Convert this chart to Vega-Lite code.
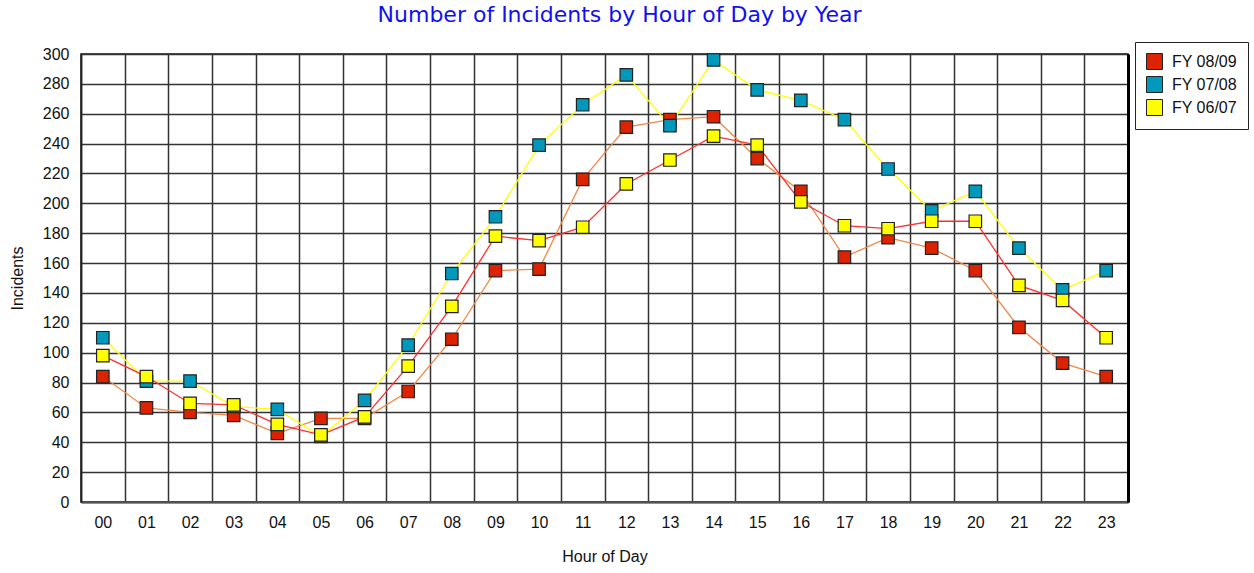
{
  "$schema": "https://vega.github.io/schema/vega-lite/v6.json",
  "autosize": {"type": "none"},
  "width": 1047,
  "height": 448,
  "padding": {"left": 81, "top": 54, "right": 126, "bottom": 71},
  "background": "white",
  "title": {
    "text": "Number of Incidents by Hour of Day by Year",
    "color": "#1010ee",
    "font": "DejaVu Sans",
    "fontSize": 22,
    "fontWeight": "normal",
    "anchor": "middle",
    "dx": 15,
    "offset": 15
  },
  "config": {
    "view": {"stroke": "#111", "strokeWidth": 1.5},
    "font": "Liberation Sans",
    "axis": {
      "labelFont": "Liberation Sans",
      "labelFontSize": 16,
      "labelColor": "#111",
      "titleFont": "Liberation Sans",
      "titleFontSize": 16,
      "titleFontWeight": "normal",
      "titleColor": "#111",
      "gridColor": "#333",
      "gridWidth": 1.5,
      "gridOpacity": 1,
      "ticks": false
    }
  },
  "data": {
    "values": [
      {"hour": "00", "year": "FY 08/09", "value": 84},
      {"hour": "01", "year": "FY 08/09", "value": 63},
      {"hour": "02", "year": "FY 08/09", "value": 60},
      {"hour": "03", "year": "FY 08/09", "value": 58},
      {"hour": "04", "year": "FY 08/09", "value": 46},
      {"hour": "05", "year": "FY 08/09", "value": 56},
      {"hour": "06", "year": "FY 08/09", "value": 56},
      {"hour": "07", "year": "FY 08/09", "value": 74},
      {"hour": "08", "year": "FY 08/09", "value": 109},
      {"hour": "09", "year": "FY 08/09", "value": 155},
      {"hour": "10", "year": "FY 08/09", "value": 156},
      {"hour": "11", "year": "FY 08/09", "value": 216},
      {"hour": "12", "year": "FY 08/09", "value": 251},
      {"hour": "13", "year": "FY 08/09", "value": 256},
      {"hour": "14", "year": "FY 08/09", "value": 258},
      {"hour": "15", "year": "FY 08/09", "value": 230},
      {"hour": "16", "year": "FY 08/09", "value": 208},
      {"hour": "17", "year": "FY 08/09", "value": 164},
      {"hour": "18", "year": "FY 08/09", "value": 177},
      {"hour": "19", "year": "FY 08/09", "value": 170},
      {"hour": "20", "year": "FY 08/09", "value": 155},
      {"hour": "21", "year": "FY 08/09", "value": 117},
      {"hour": "22", "year": "FY 08/09", "value": 93},
      {"hour": "23", "year": "FY 08/09", "value": 84},
      {"hour": "00", "year": "FY 07/08", "value": 110},
      {"hour": "01", "year": "FY 07/08", "value": 81},
      {"hour": "02", "year": "FY 07/08", "value": 81},
      {"hour": "03", "year": "FY 07/08", "value": 64},
      {"hour": "04", "year": "FY 07/08", "value": 62},
      {"hour": "05", "year": "FY 07/08", "value": 44},
      {"hour": "06", "year": "FY 07/08", "value": 68},
      {"hour": "07", "year": "FY 07/08", "value": 105},
      {"hour": "08", "year": "FY 07/08", "value": 153},
      {"hour": "09", "year": "FY 07/08", "value": 191},
      {"hour": "10", "year": "FY 07/08", "value": 239},
      {"hour": "11", "year": "FY 07/08", "value": 266},
      {"hour": "12", "year": "FY 07/08", "value": 286},
      {"hour": "13", "year": "FY 07/08", "value": 252},
      {"hour": "14", "year": "FY 07/08", "value": 296},
      {"hour": "15", "year": "FY 07/08", "value": 276},
      {"hour": "16", "year": "FY 07/08", "value": 269},
      {"hour": "17", "year": "FY 07/08", "value": 256},
      {"hour": "18", "year": "FY 07/08", "value": 223},
      {"hour": "19", "year": "FY 07/08", "value": 195},
      {"hour": "20", "year": "FY 07/08", "value": 208},
      {"hour": "21", "year": "FY 07/08", "value": 170},
      {"hour": "22", "year": "FY 07/08", "value": 142},
      {"hour": "23", "year": "FY 07/08", "value": 155},
      {"hour": "00", "year": "FY 06/07", "value": 98},
      {"hour": "01", "year": "FY 06/07", "value": 84},
      {"hour": "02", "year": "FY 06/07", "value": 66},
      {"hour": "03", "year": "FY 06/07", "value": 65},
      {"hour": "04", "year": "FY 06/07", "value": 52},
      {"hour": "05", "year": "FY 06/07", "value": 45},
      {"hour": "06", "year": "FY 06/07", "value": 57},
      {"hour": "07", "year": "FY 06/07", "value": 91},
      {"hour": "08", "year": "FY 06/07", "value": 131},
      {"hour": "09", "year": "FY 06/07", "value": 178},
      {"hour": "10", "year": "FY 06/07", "value": 175},
      {"hour": "11", "year": "FY 06/07", "value": 184},
      {"hour": "12", "year": "FY 06/07", "value": 213},
      {"hour": "13", "year": "FY 06/07", "value": 229},
      {"hour": "14", "year": "FY 06/07", "value": 245},
      {"hour": "15", "year": "FY 06/07", "value": 239},
      {"hour": "16", "year": "FY 06/07", "value": 201},
      {"hour": "17", "year": "FY 06/07", "value": 185},
      {"hour": "18", "year": "FY 06/07", "value": 183},
      {"hour": "19", "year": "FY 06/07", "value": 188},
      {"hour": "20", "year": "FY 06/07", "value": 188},
      {"hour": "21", "year": "FY 06/07", "value": 145},
      {"hour": "22", "year": "FY 06/07", "value": 135},
      {"hour": "23", "year": "FY 06/07", "value": 110}
    ]
  },
  "encoding": {
    "x": {
      "field": "hour",
      "type": "ordinal",
      "scale": {"type": "band", "paddingInner": 0, "paddingOuter": 0},
      "axis": {
        "title": "Hour of Day",
        "labelAngle": 0,
        "tickBand": "extent",
        "grid": true,
        "domainColor": "#555",
        "domainWidth": 2,
        "labelPadding": 12,
        "titlePadding": 18
      }
    },
    "y": {
      "field": "value",
      "type": "quantitative",
      "scale": {"domain": [0, 300], "nice": false},
      "axis": {
        "title": "Incidents",
        "values": [0, 20, 40, 60, 80, 100, 120, 140, 160, 180, 200, 220, 240, 260, 280, 300],
        "grid": true,
        "domainColor": "#222",
        "domainWidth": 1.5,
        "labelPadding": 12,
        "titlePadding": 17
      }
    }
  },
  "layer": [
    {
      "mark": {"type": "line", "strokeWidth": 1.3},
      "encoding": {
        "stroke": {
          "field": "year",
          "type": "nominal",
          "scale": {
            "domain": ["FY 06/07", "FY 07/08", "FY 08/09"],
            "range": ["#ff3030", "#ffff00", "#f08848"]
          },
          "legend": null
        },
        "detail": {"field": "year"}
      }
    },
    {
      "mark": {"type": "point", "shape": "square", "filled": true, "size": 156, "stroke": "#222", "strokeWidth": 1.2, "opacity": 1},
      "encoding": {
        "y": {
          "field": "value",
          "type": "quantitative",
          "axis": {
            "orient": "right",
            "title": null,
            "labels": false,
            "grid": false,
            "domainColor": "#000",
            "domainWidth": 3
          }
        },
        "fill": {
          "field": "year",
          "type": "nominal",
          "scale": {
            "domain": ["FY 08/09", "FY 07/08", "FY 06/07"],
            "range": ["#dd2200", "#0099bb", "#ffff00"]
          },
          "legend": {
            "title": null,
            "orient": "none",
            "legendX": 1054,
            "legendY": -12,
            "padding": 11,
            "strokeColor": "#222",
            "fillColor": "white",
            "symbolType": "square",
            "symbolSize": 256,
            "symbolStrokeColor": "#222",
            "symbolStrokeWidth": 1,
            "symbolOpacity": 1,
            "labelFont": "Liberation Sans",
            "labelFontSize": 16,
            "labelColor": "#111",
            "labelOffset": 9,
            "rowPadding": 2
          }
        }
      }
    }
  ],
  "resolve": {"axis": {"y": "independent"}}
}
